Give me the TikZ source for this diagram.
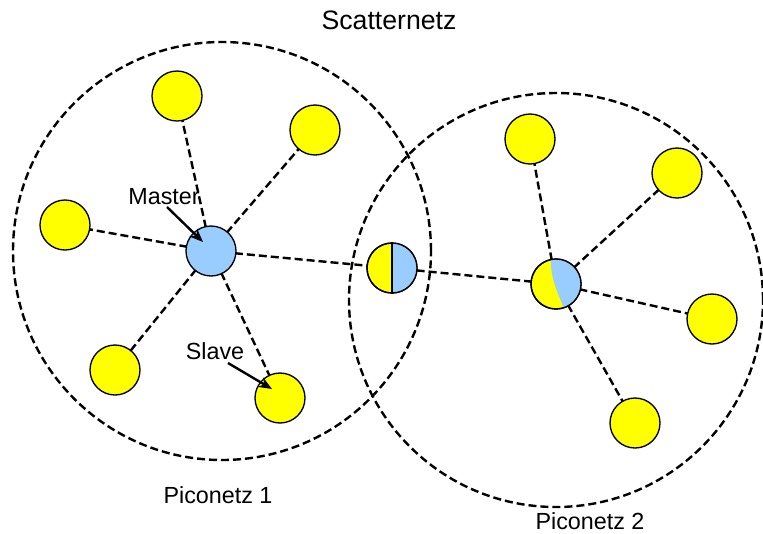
\documentclass[tikz,border=0pt]{standalone}
\usepackage{fontspec}
\setmainfont{Liberation Sans}
\usetikzlibrary{arrows.meta,calc}
\definecolor{lblue}{HTML}{99CCFF}
\definecolor{yel}{HTML}{FFFF00}
\begin{document}
\begin{tikzpicture}[x=0.75pt,y=-0.75pt,
  dev/.style={circle,draw,line width=1pt,minimum size=37.5pt,inner sep=0pt},
  slavenode/.style={dev,fill=yel},
  masternode/.style={dev,fill=lblue},
  link/.style={dash pattern=on 6pt off 3pt,line width=1.8pt},
  piconet/.style={dash pattern=on 6pt off 3pt,line width=1.8pt},
  lbl/.style={font=\fontsize{17.5}{20}\selectfont},
  pointer/.style={-{Stealth[length=10pt,width=8pt]},line width=1.8pt}]
\useasboundingbox (0,0) rectangle (763,533);
% piconets
\draw[piconet] (222,251) circle [radius=156.75pt];
\draw[piconet] (556,300) circle [radius=155.25pt];
% node positions
\coordinate (m1) at (211,251);
\coordinate (b) at (392,268);
\coordinate (m2) at (556,284);
\coordinate (s1) at (177,96);
\coordinate (s2) at (315,130);
\coordinate (s3) at (65,225);
\coordinate (s4) at (115,370);
\coordinate (s5) at (280,398);
\coordinate (t1) at (530,139);
\coordinate (t2) at (677,173);
\coordinate (t3) at (712,319);
\coordinate (t4) at (635,423);
% links
\foreach \s in {s1,s2,s3,s4,s5,b} \draw[link] (m1) -- (\s);
\foreach \t in {t1,t2,t3,t4,b} \draw[link] (m2) -- (\t);
% nodes
\foreach \s in {s1,s2,s3,s4,s5,t1,t2,t3,t4}
  \node[slavenode] (n\s) at (\s) {};
\node[masternode] (nm1) at (m1) {};
% bridge node
\node[slavenode] (nb) at (b) {};
\begin{scope}
  \clip (b) circle [radius=18.75pt];
  \fill[lblue] (nb.north) rectangle ([xshift=30pt]nb.south);
\end{scope}
\draw[line width=1pt] (nb.north) -- (nb.south);
\node[dev] at (b) {};
% master 2 (shared)
\node[slavenode] (nm2) at (m2) {};
\begin{scope}
  \clip (m2) circle [radius=18.75pt];
  \fill[lblue] (nm2.100) .. controls ([xshift=-2pt,yshift=-12pt]nm2.100) and ([xshift=-4pt,yshift=10pt]nm2.-72) .. (nm2.-72) -- ([xshift=30pt]nm2.-72) -- ([xshift=30pt]nm2.100) -- cycle;
\end{scope}
\node[dev] at (m2) {};
% texts
\node[font=\fontsize{20}{22}\selectfont] (title) at (389,20) {Scatternetz};
\node[lbl] (lm) at (164,197) {Master};
\node[lbl] (ls) at (215,351) {Slave};
\node[lbl] (p1) at (218,495) {Piconetz 1};
\node[lbl] (p2) at (590,521) {Piconetz 2};
\coordinate (am) at (167,207);
\coordinate (as) at (228,363);
\draw[pointer] (am) -- ($(nm1.center)+(-8,-9)$);
\draw[pointer] (as) -- ($(ns5.center)+(-8,-9)$);
\end{tikzpicture}
\end{document}
